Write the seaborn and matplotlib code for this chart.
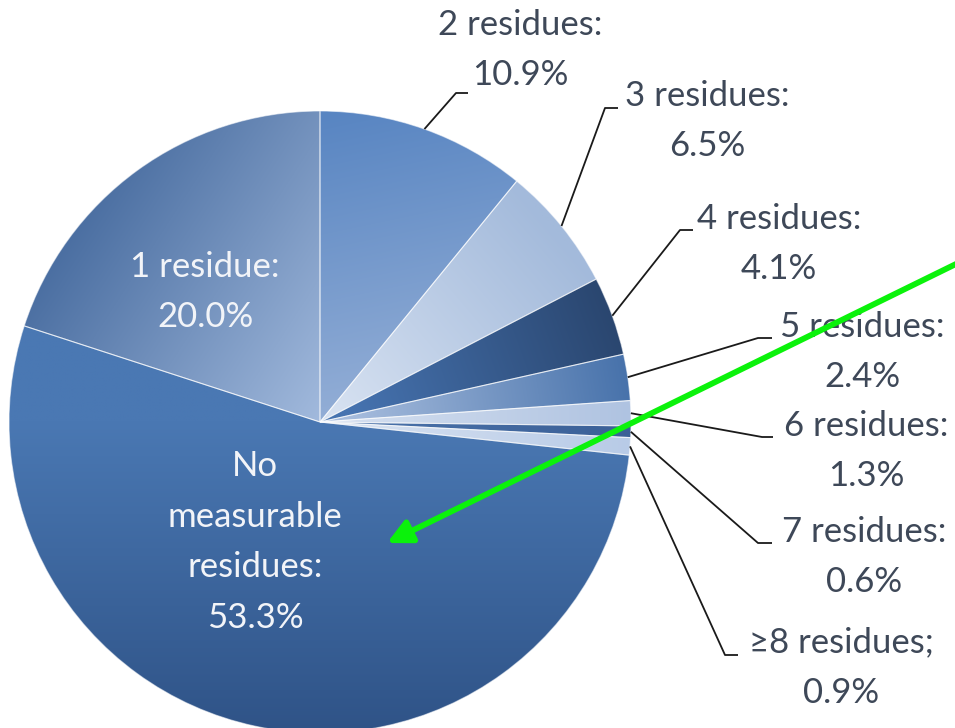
import numpy as np
import matplotlib
matplotlib.use("Agg")
import matplotlib.pyplot as plt
from matplotlib.colors import to_rgb
import seaborn as sns

# Share of samples by number of measurable residues
categories = ["2 residues", "3 residues", "4 residues", "5 residues", "6 residues",
              "7 residues", "\u22658 residues", "No measurable residues", "1 residue"]
shares = [10.9, 6.5, 4.1, 2.4, 1.3, 0.6, 0.9, 53.3, 20.0]
labels = ["2 residues:\n10.9%", "3 residues:\n6.5%", "4 residues:\n4.1%",
          "5 residues:\n2.4%", "6 residues:\n1.3%", "7 residues:\n0.6%",
          "\u22658 residues;\n0.9%", "No\nmeasurable\nresidues:\n53.3%", "1 residue:\n20.0%"]

# Two-stop gradient per wedge: (start colour, end colour, start point, end point),
# points given in units of the radius relative to the pie centre
shading = [
    ("#5885C2", "#93AED6", (0.05, 1.0), (0.25, 0.05)),
    ("#A3BADB", "#D6E1F1", (0.75, 0.62), (0.05, 0.02)),
    ("#2A466F", "#4673B0", (0.95, 0.33), (0.10, 0.02)),
    ("#4671AA", "#A6BCDD", (1.0, 0.15), (0.1, 0.0)),
    ("#AFC3E1", "#D3DEEF", (1.0, 0.0), (0.1, 0.0)),
    ("#3B6097", "#4A72AA", (1.0, -0.03), (0.1, 0.0)),
    ("#B8CBE7", "#D5E0F0", (1.0, -0.08), (0.1, 0.0)),
    ("#4A78B3", "#2F5387", (0.0, 0.0), (0.0, -1.0)),
    ("#4A6EA1", "#A2BADD", (-0.85, 0.55), (0.0, 0.0)),
]

W, H = 955, 728
cx, cy, R = 320, H - 422, 311

sns.set_theme(style="white")
plt.rcParams["font.family"] = ["Lato", "DejaVu Sans"]

fig = plt.figure(figsize=(W / 100, H / 100), dpi=100)
ax = fig.add_axes([0, 0, 1, 1])

wedges, _ = ax.pie(shares, startangle=90, counterclock=False, center=(cx, cy), radius=R,
                   wedgeprops=dict(edgecolor=(1, 1, 1, 0.55), linewidth=0.8))

# paint each wedge with a linear gradient clipped to its outline
n = 400
gx = np.linspace(cx - R, cx + R, n)
gy = np.linspace(cy - R, cy + R, n)
GX, GY = np.meshgrid(gx, gy)
for w, (c0, c1, p0, p1) in zip(wedges, shading):
    a = np.array([cx + p0[0] * R, cy + p0[1] * R])
    b = np.array([cx + p1[0] * R, cy + p1[1] * R])
    d = b - a
    t = ((GX - a[0]) * d[0] + (GY - a[1]) * d[1]) / (d @ d)
    t = np.clip(t, 0, 1)[..., None]
    img = np.array(to_rgb(c0)) * (1 - t) + np.array(to_rgb(c1)) * t
    im = ax.imshow(img, extent=(cx - R, cx + R, cy - R, cy + R), origin="lower",
                   interpolation="bilinear", zorder=1)
    im.set_clip_path(w)
    w.set_facecolor("none")
    w.set_zorder(2)

# outside labels with elbow leader lines: (text centre, elbow, line end) in pixels
outer = {
    0: ((520, 50), (456, 93), (468, 93)),
    1: ((707, 121), (605, 108), (618, 108)),
    2: ((779, 244), (680, 230), (693, 230)),
    3: ((862, 352), (758, 338), (772, 338)),
    4: ((866, 451), (762, 437), (773, 437)),
    5: ((864, 557), (758, 543), (772, 543)),
    6: ((841, 668), (725, 655), (738, 655)),
}
text_col = "#3E4858"
fs, ls = 25, 1.72
for i, (tpos, knee, end) in outer.items():
    w = wedges[i]
    mid = np.deg2rad((w.theta1 + w.theta2) / 2)
    sx, sy = cx + R * np.cos(mid), cy + R * np.sin(mid)
    ax.plot([sx, knee[0], end[0]], [sy, H - knee[1], H - end[1]],
            color="#1A1A1A", lw=1.3, zorder=3, solid_capstyle="butt")
    ax.text(tpos[0], H - tpos[1], labels[i], ha="center", va="center",
            fontsize=fs, color=text_col, linespacing=ls, zorder=4)

# labels inside the two large wedges
ax.text(205, H - 292, labels[8], ha="center", va="center", fontsize=fs,
        color="#F2F4F8", linespacing=ls, zorder=4)
ax.text(255, H - 542, labels[7], ha="center", va="center", fontsize=fs,
        color="#F2F4F8", linespacing=ls, zorder=4)

# highlight arrow pointing into the largest wedge
ax.annotate("", xy=(387, H - 543), xytext=(958, H - 263),
            arrowprops=dict(arrowstyle="-|>,head_length=1.2,head_width=0.6",
                            color="#0BF20B", lw=4.2, shrinkA=0, shrinkB=0),
            zorder=5)

ax.set_xlim(0, W)
ax.set_ylim(0, H)
ax.set_aspect("equal")
ax.axis("off")
fig.savefig("out.png", dpi=100, facecolor="white")
